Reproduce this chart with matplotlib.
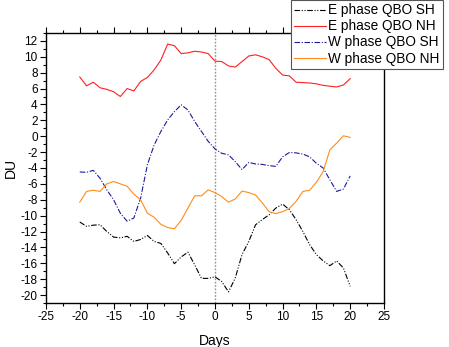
import matplotlib
matplotlib.use("Agg")
import matplotlib.pyplot as plt
from matplotlib.ticker import MultipleLocator

plt.rcParams['font.family'] = ['Liberation Sans', 'DejaVu Sans']
plt.rcParams['axes.unicode_minus'] = False

days = list(range(-20, 21))

e_sh = [-10.8, -11.35, -11.2, -11.15, -12.0, -12.7, -12.8, -12.6, -13.25, -13.0,
        -12.5, -13.25, -13.5, -14.7, -16.05, -15.2, -14.6, -16.2, -17.9, -17.9,
        -17.7, -18.3, -19.6, -17.85, -14.9, -13.25, -11.15, -10.5, -9.9, -9.05,
        -8.55, -9.25, -10.5, -12.0, -13.65, -14.9, -15.7, -16.3, -15.7, -16.6, -18.9]

e_nh = [7.45, 6.35, 6.8, 6.1, 5.9, 5.6, 5.0, 6.0, 5.7, 6.9,
        7.4, 8.35, 9.6, 11.6, 11.4, 10.4, 10.5, 10.7, 10.6, 10.4,
        9.45, 9.4, 8.85, 8.7, 9.4, 10.1, 10.25, 10.0, 9.65, 8.55,
        7.7, 7.6, 6.8, 6.75, 6.7, 6.6, 6.4, 6.3, 6.2, 6.45, 7.25]

w_sh = [-4.5, -4.55, -4.3, -5.3, -6.75, -8.0, -9.7, -10.7, -10.3, -7.8,
        -3.6, -1.1, 0.6, 2.05, 3.1, 3.95, 3.3, 1.85, 0.6, -0.65,
        -1.6, -2.15, -2.35, -3.2, -4.2, -3.3, -3.5, -3.55, -3.7, -3.8,
        -2.6, -2.05, -2.1, -2.25, -2.6, -3.4, -4.0, -5.5, -6.95, -6.65, -5.0]

w_nh = [-8.3, -6.95, -6.8, -6.95, -6.0, -5.7, -6.0, -6.3, -7.3, -8.0,
        -9.7, -10.2, -11.1, -11.5, -11.65, -10.6, -9.05, -7.5, -7.5, -6.75,
        -7.1, -7.6, -8.3, -7.9, -6.9, -7.1, -7.4, -8.4, -9.5, -9.75,
        -9.5, -9.1, -8.2, -6.95, -6.8, -5.8, -4.45, -1.7, -0.87, 0.05, -0.15]

fig = plt.figure(figsize=(4.49, 3.47), dpi=100)
ax = fig.add_axes([0.1024, 0.1268, 0.7528, 0.7782])

ax.axvline(0, color='#909090', linestyle=(0, (1.2, 1.2)), linewidth=1.0, zorder=1)

l1, = ax.plot(days, e_sh, color='black', linewidth=0.8,
              dashes=(5, 1.5, 1, 1.5, 1, 1.5), label='E phase QBO SH')
l2, = ax.plot(days, e_nh, color='#ff2020', linewidth=0.8, label='E phase QBO NH')
l3, = ax.plot(days, w_sh, color='#1a1aa0', linewidth=0.8,
              dashes=(5, 1.5, 1, 1.5), label='W phase QBO SH')
l4, = ax.plot(days, w_nh, color='#ff8c1a', linewidth=0.8, label='W phase QBO NH')

ax.set_xlim(-25, 25)
ax.set_ylim(-21, 13)
ax.xaxis.set_major_locator(MultipleLocator(5))
ax.xaxis.set_minor_locator(MultipleLocator(2.5))
ax.yaxis.set_major_locator(MultipleLocator(2))
ax.yaxis.set_minor_locator(MultipleLocator(1))

ax.tick_params(axis='both', which='both', direction='out', labelsize=8.5,
               top=True, right=False, labeltop=False, width=0.8)
ax.tick_params(which='major', length=4)
ax.tick_params(which='minor', length=2)
ax.tick_params(axis='x', pad=2)
ax.tick_params(axis='y', pad=2)
for s in ax.spines.values():
    s.set_linewidth(1.0)

ax.set_xlabel('Days', fontsize=10, labelpad=8)
ax.set_ylabel('DU', fontsize=10, labelpad=2)

leg = fig.legend(handles=[l1, l2, l3, l4], loc='upper right',
                 bbox_to_anchor=(0.987, 1.0), fontsize=9.8, frameon=True,
                 fancybox=False, edgecolor='#555555', framealpha=1,
                 handlelength=2.35, handletextpad=0.17, borderpad=0.25,
                 labelspacing=0.15, borderaxespad=0)
leg.get_frame().set_linewidth(0.8)

fig.savefig('out.png', dpi=100)
